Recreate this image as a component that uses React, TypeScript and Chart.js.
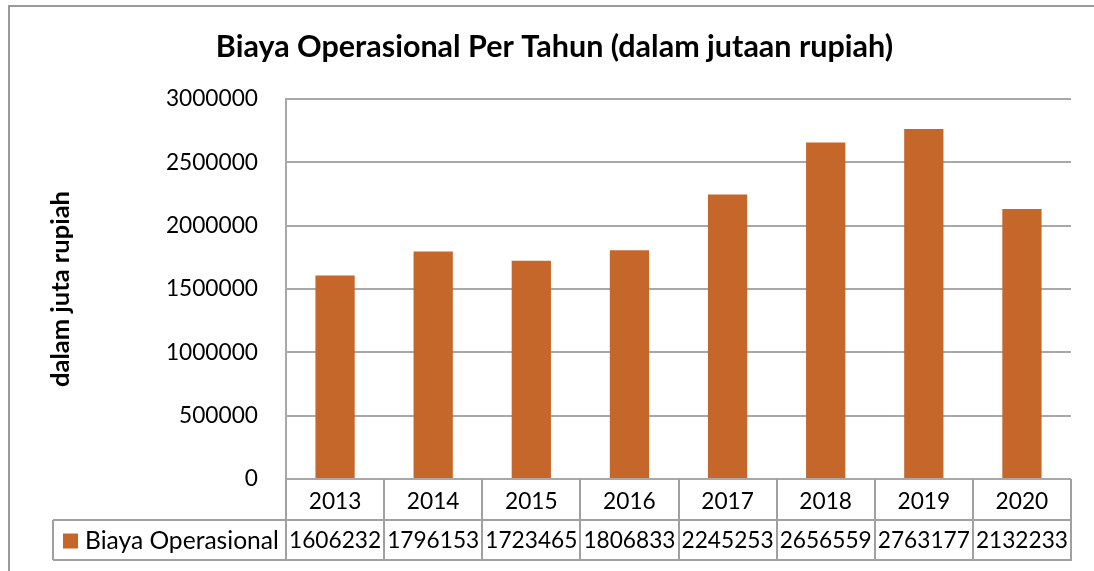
import React, { useEffect, useRef } from "react";
import { Chart, registerables } from "chart.js";

Chart.register(...registerables);

const chartTitle = "Biaya Operasional Per Tahun (dalam jutaan rupiah)";
const yAxisTitle = "dalam juta rupiah";
const seriesName = "Biaya Operasional";
const years = ["2013", "2014", "2015", "2016", "2017", "2018", "2019", "2020"];
const biayaOperasional = [1606232, 1796153, 1723465, 1806833, 2245253, 2656559, 2763177, 2132233];
const yMin = 0;
const yMax = 3000000;
const yStep = 500000;

const FONT = "Lato, 'Noto Sans', sans-serif";
const BAR_COLOR = "#C5672B";
const GRID_COLOR = "#A8A8A8";
const TABLE_COLOR = "#A0A0A0";
const CAT_ROW_H = 41;
const DATA_ROW_H = 40;
const LEGEND_LEFT = 53;
const DIGIT_SIZE = 22.7;
const TEXT_SIZE = 24.6;

const tablePlugin = {
  id: "dataTable",
  beforeDraw(chart: any) {
    const ctx = chart.ctx;
    ctx.save();
    ctx.fillStyle = "#ffffff";
    ctx.fillRect(0, 0, chart.width, chart.height);
    ctx.strokeStyle = "#9a9a9a";
    ctx.lineWidth = 2;
    ctx.strokeRect(9, 6, chart.width + 20, chart.height + 20);
    ctx.restore();
  },
  afterDraw(chart: any) {
    const ctx = chart.ctx;
    const xs = chart.scales.x;
    const area = chart.chartArea;
    const top = area.bottom;
    const mid = top + CAT_ROW_H;
    const bottom = mid + DATA_ROW_H;
    const right = xs.getPixelForValue(years.length - 0.5);
    ctx.save();
    ctx.strokeStyle = TABLE_COLOR;
    ctx.lineWidth = 2;
    ctx.beginPath();
    for (let i = 0; i <= years.length; i++) {
      const bx = Math.round(xs.getPixelForValue(i - 0.5));
      ctx.moveTo(bx, top);
      ctx.lineTo(bx, bottom);
    }
    ctx.moveTo(LEGEND_LEFT, mid);
    ctx.lineTo(right + 1, mid);
    ctx.moveTo(LEGEND_LEFT, bottom);
    ctx.lineTo(right + 1, bottom);
    ctx.moveTo(LEGEND_LEFT, mid);
    ctx.lineTo(LEGEND_LEFT, bottom);
    ctx.stroke();

    ctx.fillStyle = "#000";
    ctx.font = `${DIGIT_SIZE}px ${FONT}`;
    ctx.textAlign = "center";
    ctx.textBaseline = "middle";
    const cy = (mid + bottom) / 2 + 1;
    biayaOperasional.forEach((v, i) => {
      ctx.fillText(String(v), xs.getPixelForValue(i), cy);
    });
    // legend key
    ctx.fillStyle = BAR_COLOR;
    ctx.fillRect(LEGEND_LEFT + 10, cy - 7.5, 15, 15);
    ctx.fillStyle = "#000";
    ctx.font = `${TEXT_SIZE}px ${FONT}`;
    ctx.textAlign = "left";
    ctx.fillText(seriesName, LEGEND_LEFT + 32, cy);
    ctx.restore();
  },
};

export default function App() {
  const ref = useRef<HTMLCanvasElement | null>(null);
  useEffect(() => {
    if (!ref.current) return;
    const chart = new Chart(ref.current, {
      type: "bar",
      data: {
        labels: years,
        datasets: [
          {
            label: seriesName,
            data: biayaOperasional,
            backgroundColor: BAR_COLOR,
            barPercentage: 0.4,
            categoryPercentage: 1,
          },
        ],
      },
      options: {
        responsive: false,
        animation: false,
        layout: { padding: { left: 38, right: 23, top: 0, bottom: DATA_ROW_H + 11 } },
        plugins: {
          legend: { display: false },
          tooltip: { enabled: false },
          title: {
            display: true,
            text: chartTitle,
            color: "#000",
            font: { family: FONT, size: 30.5, weight: "bold" },
            padding: { top: 29, bottom: 33.4 },
          },
        },
        scales: {
          x: {
            grid: { display: false, drawTicks: false },
            border: { display: false },
            ticks: { color: "#000", font: { family: FONT, size: DIGIT_SIZE }, padding: 9 },
            afterFit: (s: any) => {
              s.height = CAT_ROW_H;
            },
          },
          y: {
            min: yMin,
            max: yMax,
            ticks: {
              stepSize: yStep,
              color: "#000",
              font: { family: FONT, size: DIGIT_SIZE },
              padding: 28,
              callback: (v: any) => String(v),
            },
            grid: { color: GRID_COLOR, lineWidth: 2, drawTicks: false },
            border: { display: true, color: GRID_COLOR, width: 2 },
            title: {
              display: true,
              text: yAxisTitle,
              color: "#000",
              font: { family: FONT, size: 25.5, weight: "bold" },
              padding: { top: 7.5, bottom: 0 },
            },
            afterFit: (s: any) => {
              s.width = 248;
            },
          },
        },
      },
      plugins: [tablePlugin],
    });
    return () => chart.destroy();
  }, []);
  return (
    <canvas
      ref={ref}
      width={1094}
      height={571}
      style={{ position: "fixed", left: 0, top: 0, display: "block" }}
    />
  );
}
